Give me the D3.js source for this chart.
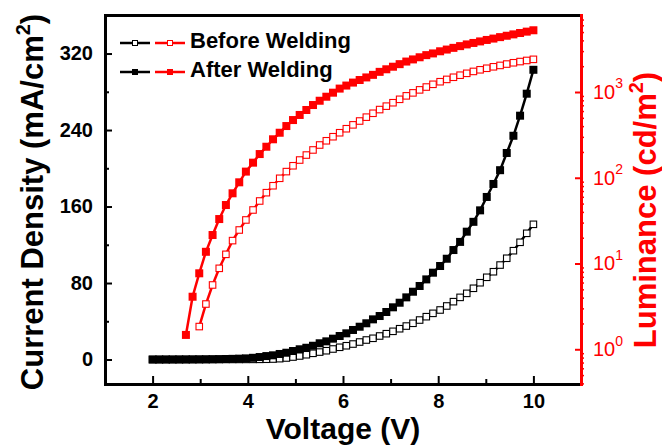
<!DOCTYPE html>
<html>
<head>
<meta charset="utf-8">
<script src="https://cdn.jsdelivr.net/npm/d3@7"></script>
<style>
  body { margin: 0; background: #fff; }
  svg { font-family: "Liberation Sans", Arial, sans-serif; font-weight: bold; }
</style>
</head>
<body>
<svg width="662" height="445"></svg>
<script>
// voltage sweep (V)
var voltage = [2.00, 2.14, 2.28, 2.42, 2.56, 2.70, 2.84, 2.98, 3.12, 3.26, 3.40, 3.54, 3.68, 3.82, 3.96,
  4.11, 4.25, 4.39, 4.53, 4.67, 4.81, 4.95, 5.09, 5.23, 5.37, 5.51, 5.65, 5.79, 5.93, 6.07,
  6.21, 6.35, 6.49, 6.63, 6.77, 6.91, 7.05, 7.19, 7.33, 7.47, 7.61, 7.75, 7.89, 8.04, 8.18,
  8.32, 8.46, 8.60, 8.74, 8.88, 9.02, 9.16, 9.30, 9.44, 9.58, 9.72, 9.86, 10.00];

// current density (mA/cm2)
var jBefore = [0.01, 0.01, 0.02, 0.02, 0.03, 0.03, 0.04, 0.05, 0.05, 0.06, 0.07, 0.08, 0.09, 0.1, 0.12,
  0.15, 0.2, 0.3, 0.5, 0.9, 1.6, 2.6, 3.7, 5, 6.5, 7.8, 9.2, 11, 12.8, 14.4,
  16.2, 18.3, 20.4, 22.2, 24.6, 27, 29.5, 32.2, 35, 37.9, 41.3, 44.8, 48.3, 51.8, 56,
  60.5, 65, 69.2, 74.5, 80.3, 86, 91.8, 98.8, 105.9, 113.8, 122.6, 132, 141.4];
var jAfter = [0.01, 0.02, 0.03, 0.05, 0.07, 0.1, 0.14, 0.19, 0.25, 0.33, 0.43, 0.55, 0.7, 0.9, 1.2,
  1.8, 2.6, 3.6, 4.4, 5.8, 7.1, 8.9, 10.7, 12.3, 14.4, 17, 19, 21.8, 24.6, 27.4,
  30.9, 34.3, 37.9, 42, 45.5, 49.7, 54.6, 59.4, 65, 70.9, 76.9, 83.8, 90.8, 97.8, 105.4,
  114.5, 123, 133.7, 144, 156, 170, 183.6, 198, 216, 234, 255, 278, 303];

// luminance (cd/m2), null below turn-on
var lumBefore = [null, null, null, null, null, null, null, 1.84, 3.37, 5.62, 8.79, 12.8, 18.5, 24.6, 32.2,
  42.1, 53.6, 67.0, 80.7, 98.6, 118, 138, 161, 184, 211, 241, 270, 301, 335, 373,
  414, 459, 509, 565, 624, 684, 750, 822, 902, 977, 1059, 1143, 1230, 1318, 1403,
  1486, 1570, 1652, 1738, 1816, 1892, 1968, 2042, 2118, 2193, 2265, 2333, 2404];
var lumAfter = [null, null, null, null, null, 1.47, 4.10, 7.69, 13.7, 21.5, 33.0, 48.1, 65.9, 88.5, 118,
  150, 189, 230, 281, 335, 401, 471, 540, 617, 705, 791, 881, 982, 1096, 1189,
  1288, 1380, 1479, 1585, 1718, 1841, 1972, 2113, 2265, 2399, 2541, 2692, 2818, 2985, 3126,
  3273, 3428, 3589, 3733, 3890, 4046, 4198, 4365, 4529, 4699, 4875, 5058, 5248];

var xTicks = [2, 4, 6, 8, 10];
var jTicks = [0, 80, 160, 240, 320];
var lumTicks = [1, 10, 100, 1000];
var legendLabels = ['Before Welding', 'After Welding'];

var svg = d3.select('svg'),
    pLeft = 105, pRight = 581, pTop = 15, pBottom = 384;

var x = d3.scaleLinear().domain([1, 11]).range([pLeft, pRight]);
var yJ = d3.scaleLinear().domain([-25.6, 360.3]).range([pBottom, pTop]);
var yL = d3.scaleLog().domain([0.3936, 7907]).range([pBottom, pTop]);

// minor tick values
var xMinor = [3, 5, 7, 9];
var jMinor = [40, 120, 200, 280];
var lumMinor = [];
[0.1, 1, 10, 100, 1000].forEach(function(d) {
  for (var k = 2; k <= 9; k++) {
    var v = d * k;
    if (v > yL.domain()[0] && v < yL.domain()[1]) lumMinor.push(v);
  }
});

// ---- series ----
var series = [
  {vals: jBefore, y: yJ, color: '#000', filled: false, size: 6.5},
  {vals: jAfter, y: yJ, color: '#000', filled: true, size: 8},
  {vals: lumBefore, y: yL, color: '#ff0000', filled: false, size: 6.5},
  {vals: lumAfter, y: yL, color: '#ff0000', filled: true, size: 8}
];

series.forEach(function(s) {
  var pts = voltage.map(function(v, i) { return {v: v, val: s.vals[i]}; })
    .filter(function(d) { return d.val != null; });
  var line = d3.line()
    .x(function(d) { return x(d.v); })
    .y(function(d) { return s.y(d.val); });
  svg.append('path')
    .datum(pts)
    .attr('fill', 'none')
    .attr('stroke', s.color)
    .attr('stroke-width', 2.5)
    .attr('d', line);
  svg.append('g').selectAll('rect')
    .data(pts)
    .enter().append('rect')
    .attr('x', function(d) { return x(d.v) - s.size / 2; })
    .attr('y', function(d) { return s.y(d.val) - s.size / 2; })
    .attr('width', s.size)
    .attr('height', s.size)
    .attr('fill', s.filled ? s.color : '#fff')
    .attr('stroke', s.color)
    .attr('stroke-width', s.filled ? 0 : 1.1);
});

// ---- axes ----
var fs = 20;

svg.append('g').attr('transform', `translate(0,${pBottom})`)
  .call(d3.axisBottom(x).tickValues(xTicks).tickSizeInner(-8).tickSizeOuter(0).tickPadding(10));
svg.append('g').attr('transform', `translate(0,${pBottom})`)
  .call(d3.axisBottom(x).tickValues(xMinor).tickSizeInner(-5).tickSizeOuter(0).tickFormat(''))
  .select('.domain').remove();

svg.append('g').attr('transform', `translate(${pLeft},0)`)
  .call(d3.axisLeft(yJ).tickValues(jTicks).tickSizeInner(-7).tickSizeOuter(0).tickPadding(12));
svg.append('g').attr('transform', `translate(${pLeft},0)`)
  .call(d3.axisLeft(yJ).tickValues(jMinor).tickSizeInner(-4).tickSizeOuter(0).tickFormat(''))
  .select('.domain').remove();

svg.append('g').attr('transform', `translate(0,${pTop})`)
  .call(d3.axisTop(x).tickValues([]).tickSizeOuter(0));

var gr = svg.append('g').attr('class', 'lum-axis').attr('transform', `translate(${pRight},0)`)
  .call(d3.axisRight(yL).tickValues(lumTicks).tickSizeInner(-6).tickSizeOuter(0).tickPadding(12));
var grMinor = svg.append('g').attr('transform', `translate(${pRight},0)`)
  .call(d3.axisRight(yL).tickValues(lumMinor).tickSizeInner(3).tickSizeOuter(0).tickFormat(''));
grMinor.select('.domain').remove();

svg.selectAll('.domain').attr('stroke-width', 3).attr('stroke-linecap', 'square');
svg.selectAll('.tick line').attr('stroke-width', 2);
svg.selectAll('.tick text').attr('font-size', fs).attr('font-family', null).attr('fill', '#000');

gr.select('.domain').attr('stroke', '#ff0000');
gr.selectAll('.tick line').attr('stroke', '#ff0000');
grMinor.selectAll('.tick line').attr('stroke', '#ff0000').attr('stroke-width', 1.5);

// log labels as 10^n
gr.selectAll('.tick text').each(function(d) {
  var t = d3.select(this)
    .attr('fill', '#ff0000').attr('font-weight', 'normal')
    .text('10');
  t.append('tspan').attr('font-size', 14).attr('dy', '-0.75em').text(Math.round(Math.log10(d)));
});

// ---- titles ----
svg.append('text')
  .attr('x', 343).attr('y', 439)
  .attr('text-anchor', 'middle').attr('font-size', 30)
  .text('Voltage (V)');

var tl = svg.append('text')
  .attr('transform', 'translate(43,202) rotate(-90)')
  .attr('text-anchor', 'middle').attr('font-size', 31)
  .text('Current Density (mA/cm');
tl.append('tspan').attr('font-size', 20).attr('dy', -13).text('2');
tl.append('tspan').attr('dy', 13).text(')');

var tr = svg.append('text')
  .attr('transform', 'translate(656,210) rotate(-90)')
  .attr('text-anchor', 'middle').attr('font-size', 31).attr('fill', '#ff0000')
  .text('Luminance (cd/m');
tr.append('tspan').attr('font-size', 20).attr('dy', -13).text('2');
tr.append('tspan').attr('dy', 13).text(')');

// ---- legend ----
var legendRows = [43, 72];
legendLabels.forEach(function(label, i) {
  var ly = legendRows[i];
  var filled = i === 1;
  [['#000', 120, 150], ['#ff0000', 155, 185]].forEach(function(c) {
    svg.append('line')
      .attr('x1', c[1]).attr('x2', c[2]).attr('y1', ly).attr('y2', ly)
      .attr('stroke', c[0]).attr('stroke-width', 2.5);
    var m = (c[1] + c[2]) / 2;
    svg.append('rect')
      .attr('x', m - 2.5).attr('y', ly - 2.5).attr('width', 5).attr('height', 5)
      .attr('fill', filled ? c[0] : '#fff')
      .attr('stroke', c[0]).attr('stroke-width', 1);
  });
  svg.append('text')
    .attr('x', 190).attr('y', ly + 5)
    .attr('font-size', 22)
    .text(label);
});
</script>
</body>
</html>
